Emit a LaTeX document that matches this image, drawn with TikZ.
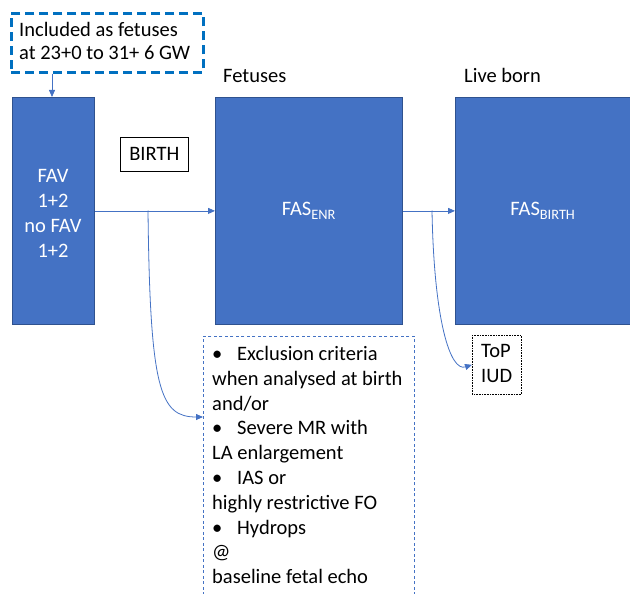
\documentclass[tikz,border=0pt]{standalone}
\usepackage{fontspec}
\setmainfont{Carlito}
\usetikzlibrary{arrows.meta,calc}
\definecolor{boxblue}{HTML}{4472C4}
\definecolor{boxedge}{HTML}{2F528F}
\definecolor{dashblue}{HTML}{0070C0}
\newcommand{\bul}{\makebox[25pt][l]{\textbullet}}
\begin{document}
\begin{tikzpicture}[x=1pt,y=-1pt,
  bigbox/.style={draw=boxedge, line width=0.8pt, fill=boxblue, text=white,
    font=\fontsize{20.5}{25}\selectfont, inner sep=0pt, anchor=north west, align=center},
  conn/.style={draw=boxblue, line width=0.8pt, -{Triangle[length=7pt,width=6pt]}},
  txt/.style={font=\fontsize{20.5}{24.8}\selectfont, inner sep=0pt, align=left}]
\useasboundingbox (0,0) rectangle (630,594);
% top dashed box
\node[draw=dashblue, line width=2.6pt, dash pattern=on 9pt off 5pt, minimum width=192pt,
  minimum height=59pt, anchor=north west, inner sep=0pt] (incl) at (10,12) {};
\node[txt, font=\fontsize{20.5}{23}\selectfont, anchor=north west] (inclt) at (19,22)
  {Included as fetuses\\at 23+0 to 31+ 6 GW};
% big boxes
\node[bigbox, minimum width=82pt, minimum height=227pt] (fav) at (12,97) {};
\node[text=white, font=\fontsize{20.5}{25}\selectfont, align=center, inner sep=0pt] (favt)
  at (53,213) {FAV\\1+2\\no FAV\\1+2};
\node[bigbox, minimum width=187pt, minimum height=227pt] (enr) at (215,97) {FAS\textsubscript{ENR}};
\node[bigbox, minimum width=175pt, minimum height=227pt] (bir) at (455,97) {FAS\textsubscript{BIRTH}};
% labels
\node[txt, anchor=base west] (fet) at (223,83) {Fetuses};
\node[txt, anchor=base west] (live) at (464,83) {Live born};
% BIRTH
\node[draw=black, line width=0.6pt, minimum width=68pt, minimum height=34pt, anchor=north west,
  inner sep=0pt, font=\fontsize{20.5}{24}\selectfont] (birth) at (120,137) {BIRTH};
% exclusion box
\node[draw=boxblue, line width=0.8pt, dash pattern=on 3pt off 2.5pt, minimum width=211pt,
  minimum height=290pt, anchor=north west, inner sep=0pt] (excl) at (203,336) {};
\node[txt, anchor=north west] (exclt) at (212,346)
  {\bul Exclusion criteria\\when analysed at birth\\and/or\\\bul Severe MR with\\LA enlargement\\
   \bul IAS or\\highly restrictive FO\\\bul Hydrops\\@\\baseline fetal echo};
% ToP box
\node[draw=black, line width=0.6pt, densely dotted, minimum width=49pt, minimum height=59pt,
  anchor=north west, inner sep=0pt] (top) at (472,335) {};
\node[txt, font=\fontsize{20.5}{25.5}\selectfont, anchor=north west] (topt) at (481,344) {ToP\\IUD};
% connectors
\draw[conn] ($(incl.south west)+(42,0)$) -- ($(fav.north west)+(40,0)$);
\draw[conn] (fav.east) -- (enr.west);
\draw[conn] (enr.east) -- (bir.west);
\coordinate (b1) at (148,210.5);
\coordinate (b2) at (432,210.5);
\draw[conn] (b1) .. controls (150,390) and (160,417) .. ($(excl.north west)+(0,81)$);
\draw[conn] (b2) .. controls (434,320) and (450,372) .. (top.west);
\end{tikzpicture}
\end{document}
